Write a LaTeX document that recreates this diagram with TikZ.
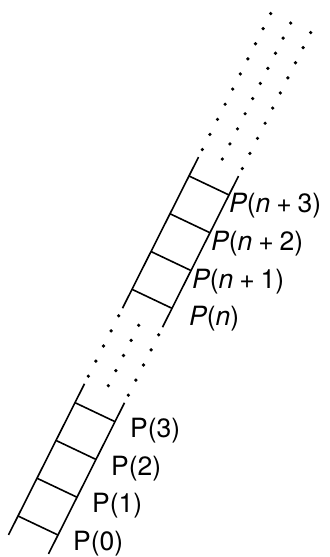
\documentclass[tikz,border=0pt]{standalone}
\usepackage{fontspec}
\setmainfont{TeX Gyre Heros}
\usetikzlibrary{calc}
\tikzset{
  rail/.style={line width=1.6bp, line cap=butt},
  rung/.style={line width=1.6bp},
  dotmark/.style={fill=black, draw=none},
  lab/.style={anchor=base west, inner sep=0pt, font=\fontsize{26.5bp}{30bp}\selectfont},
}
\newcommand{\pl}[1]{{\itshape P}(\textit{n}\hspace{0.22em}+\hspace{0.22em}#1)}
\begin{document}
\begin{tikzpicture}[x=1bp,y=-1bp]
\useasboundingbox (0,0) rectangle (329,557);
% step along the ladder: (19,-37.78); rung vector: (40,19)
\foreach \i/\n in {-0.5/m,0/0,1/1,2/2,3/3,3.5/x,5.5/y,6/6,7/7,8/8,9/9,9.5/z}{
  \coordinate (L\n) at ({18+19*\i},{516-37.78*\i});
  \coordinate (R\n) at ({58+19*\i},{535-37.78*\i});
}
% rails
\draw[rail] (Lm) -- (Lx);
\draw[rail] (Rm) -- (Rx);
\draw[rail] (Ly) -- (Lz);
\draw[rail] (Ry) -- (Rz);
% rungs
\foreach \i in {0,1,2,3,6,7,8,9}{
  \draw[rung] (L\i) -- (R\i);
}
% dots in the gap and beyond the top
\foreach \t in {3.7,4.1,4.5,4.9,5.3,9.7,10.1,10.5,10.9,11.3,11.7,12.1,12.5,12.9,13.3}{
  \fill[dotmark] ({18+19*\t},{516-37.78*\t}) circle (1.8bp);
  \fill[dotmark] ({38+19*\t},{525.5-37.78*\t}) circle (1.8bp);
  \fill[dotmark] ({58+19*\t},{535-37.78*\t}) circle (1.8bp);
}
% labels
\node[lab] (p0) at ($(R0)+(15,15.7)$) {P(0)};
\node[lab] (p1) at ($(R1)+(15,15.7)$) {P(1)};
\node[lab] (p2) at ($(R2)+(15,15.7)$) {P(2)};
\node[lab] (p3) at ($(R3)+(15,15.7)$) {P(3)};
\node[lab] (pn) at ($(R6)+(17,16.7)$) {{\itshape P}(\textit{n})};
\node[lab] (pn1) at ($(R7)+(1,17.5)$) {\pl{1}};
\node[lab] (pn2) at ($(R8)+(1,17.5)$) {\pl{2}};
\node[lab] (pn3) at ($(R9)+(0,18)$) {\pl{3}};
\end{tikzpicture}
\end{document}
